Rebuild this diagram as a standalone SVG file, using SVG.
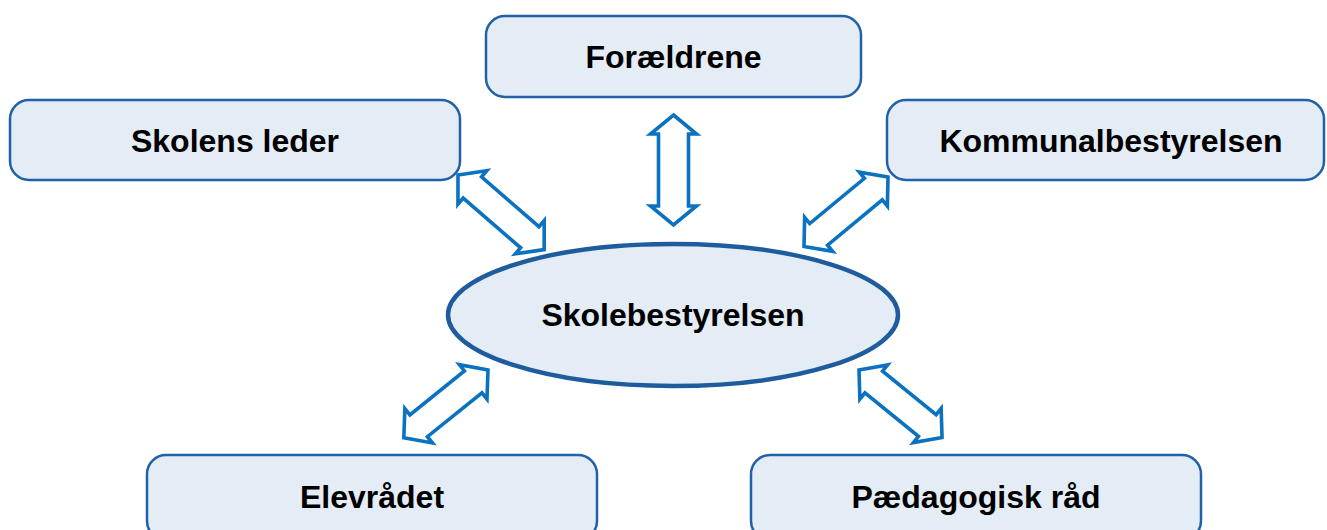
<svg xmlns="http://www.w3.org/2000/svg" width="1327" height="530" viewBox="0 0 1327 530">
<style>
.box{fill:#E4ECF5;stroke:#2161A8;stroke-width:2.5}
.ell{fill:#E4ECF5;stroke:#1F5C9E;stroke-width:4.5}
.lbl{font-family:"Liberation Sans",Arial,sans-serif;font-weight:bold;font-size:32px;fill:#000;text-anchor:middle;dominant-baseline:central}
.arr{fill:#fff;stroke:#0A72C0;stroke-width:3.6;stroke-linejoin:miter}
</style>
<rect width="1327" height="530" fill="#fff"/>
<g id="connectors">
<polygon class="arr" transform="translate(458,175) rotate(40.9)" points="0,0 19,-22 19,-14 95,-14 95,-22 114,0 95,22 95,14 19,14 19,22"/>
<polygon class="arr" transform="translate(673.5,115) rotate(90)" points="0,0 19,-23 19,-15 91,-15 91,-23 110,0 91,23 91,15 19,15 19,23"/>
<polygon class="arr" transform="translate(888,177) rotate(140.4)" points="0,0 19,-22 19,-14 90,-14 90,-22 109,0 90,22 90,14 19,14 19,22"/>
<polygon class="arr" transform="translate(488,370) rotate(141.2)" points="0,0 19,-22 19,-14 89,-14 89,-22 108,0 89,22 89,14 19,14 19,22"/>
<polygon class="arr" transform="translate(859,370) rotate(39.1)" points="0,0 19,-22 19,-14 88,-14 88,-22 107,0 88,22 88,14 19,14 19,22"/>
</g>
<g id="node-foraeldrene">
<rect class="box" x="486" y="16" width="375" height="81" rx="19"/>
<text class="lbl" x="673.5" y="57">Forældrene</text>
</g>
<g id="node-skolens-leder">
<rect class="box" x="10" y="100" width="450" height="80" rx="19"/>
<text class="lbl" x="235" y="141">Skolens leder</text>
</g>
<g id="node-kommunalbestyrelsen">
<rect class="box" x="887" y="100" width="437" height="80" rx="19"/>
<text class="lbl" x="1111" y="141">Kommunalbestyrelsen</text>
</g>
<g id="node-skolebestyrelsen">
<ellipse class="ell" cx="673" cy="315" rx="225" ry="71"/>
<text class="lbl" x="673" y="315">Skolebestyrelsen</text>
</g>
<g id="node-elevraadet">
<rect class="box" x="147" y="455" width="450" height="85" rx="19"/>
<text class="lbl" x="372" y="497">Elevrådet</text>
</g>
<g id="node-paedagogisk-raad">
<rect class="box" x="751" y="455" width="450" height="85" rx="19"/>
<text class="lbl" x="976" y="497">Pædagogisk råd</text>
</g>
</svg>
